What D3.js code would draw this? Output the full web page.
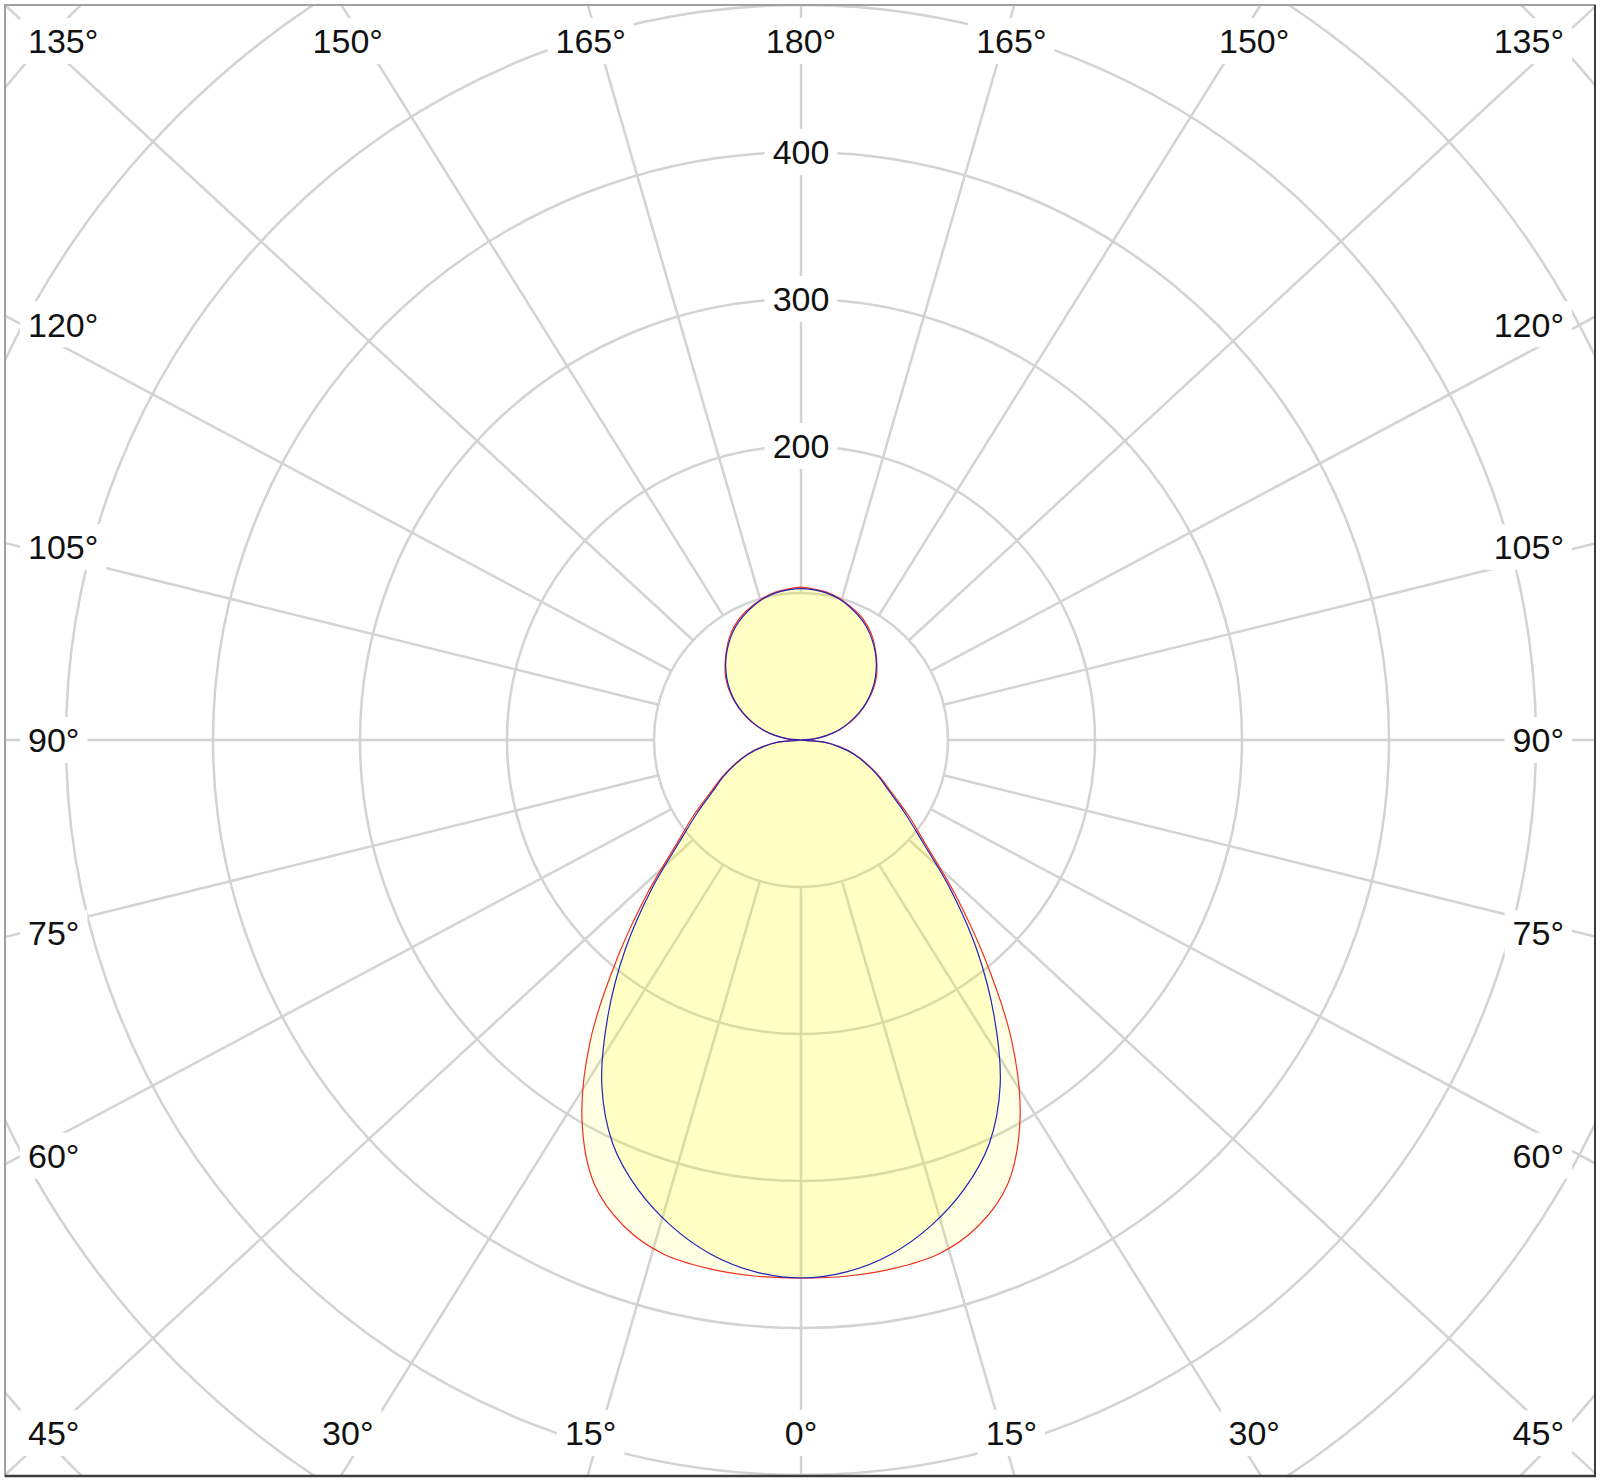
<!DOCTYPE html>
<html>
<head>
<meta charset="utf-8">
<script src="https://cdn.jsdelivr.net/npm/d3@7"></script>
<style>
  html, body { margin: 0; padding: 0; background: #ffffff; }
  svg { display: block; }
</style>
</head>
<body>
<svg id="chart" width="1600" height="1481"></svg>
<script>
// ---------------- data ----------------
const gammaDeg = [0,5,10,15,20,25,30,35,40,45,50,55,60,65,70,75,80,85,90,
                  95,100,105,110,115,120,125,130,135,140,145,150,155,160,165,170,175,180];
// C0 - C180 plane (red)
const planeC0C180 = [366,366,365,362,352,333,298,250,195,148,111,89,71,59,48,38,27,15,0,
                     9,18,27,36,44,52,60,67,73,79,85,90,94,97,100,102,103,104];
// C90 - C270 plane (blue)
const planeC90C270 = [366,363,355,342,325,303,271,229,186,144,108,86,69,58,47,37,26,15,0,
                      9,18,27,35,43.5,51.5,59,66,72.5,78.5,84,89,93,96.5,99.5,101.5,102.5,103];
const ringValues = [100,200,300,400,500,600,700];
const ringLabelValues = [200,300,400];
const spokeAngles = [0,15,30,45,60,75,90,105,120,135,150,165,180];

// ---------------- layout ----------------
const frame = {x0: 5, y0: 5, x1: 1595, y1: 1476};
const cx = 801, cy = 740;
const W = cx - frame.x0, H = cy - frame.y0;
const labelW = 785, labelH = 720;
const r = d3.scaleLinear().domain([0, 100]).range([0, 147]);
const gridColor = "#d3d3d3";
const fontFamily = "'Liberation Sans', Arial, sans-serif";
const fontSize = 34;

const svg = d3.select("#chart");
svg.append("rect").attr("width", 1600).attr("height", 1481).attr("fill", "#fff");

svg.append("clipPath").attr("id", "clip")
  .append("rect").attr("x", frame.x0).attr("y", frame.y0)
  .attr("width", frame.x1 - frame.x0).attr("height", frame.y1 - frame.y0);

const g = svg.append("g").attr("clip-path", "url(#clip)");

// rings
g.selectAll("circle.ring").data(ringValues).join("circle")
  .attr("class", "ring")
  .attr("cx", cx).attr("cy", cy).attr("r", d => r(d))
  .attr("fill", "none").attr("stroke", gridColor).attr("stroke-width", 2.5);

// spokes (directions stretched to the frame, both sides)
const spokes = [];
spokeAngles.forEach(a => {
  [1, -1].forEach(s => {
    if ((a === 0 || a === 180) && s === -1) return;
    spokes.push({a, s});
  });
});
function dirOf(a, s, w, h) {
  const rad = a * Math.PI / 180;
  const u = s * Math.sin(rad) * w, v = Math.cos(rad) * h;
  return [Math.abs(u) < 1e-9 ? 0 : u, Math.abs(v) < 1e-9 ? 0 : v];
}
g.selectAll("line.spoke").data(spokes).join("line")
  .attr("class", "spoke")
  .attr("x1", d => { const [u, v] = dirOf(d.a, d.s, W, H); const n = Math.hypot(u, v); return cx + u / n * r(100); })
  .attr("y1", d => { const [u, v] = dirOf(d.a, d.s, W, H); const n = Math.hypot(u, v); return cy + v / n * r(100); })
  .attr("x2", d => { const [u, v] = dirOf(d.a, d.s, W, H); return cx + u * 2; })
  .attr("y2", d => { const [u, v] = dirOf(d.a, d.s, W, H); return cy + v * 2; })
  .attr("stroke", gridColor).attr("stroke-width", 2.5);

// photometric curves
function curvePoints(values) {
  const pts = [];
  gammaDeg.forEach((gd, i) => pts.push([Math.PI - gd * Math.PI / 180, r(values[i])]));
  for (let i = gammaDeg.length - 2; i >= 1; i--) pts.push([Math.PI + gammaDeg[i] * Math.PI / 180, r(values[i])]);
  return pts;
}
const smoothLine = d3.lineRadial().angle(d => d[0]).radius(d => d[1]).curve(d3.curveCatmullRomClosed.alpha(0.5));

const curves = svg.append("g").attr("transform", `translate(${cx},${cy})`);
curves.append("path").attr("d", smoothLine(curvePoints(planeC0C180)))
  .attr("fill", "rgba(255,255,0,0.11)").attr("stroke", "none");
curves.append("path").attr("d", smoothLine(curvePoints(planeC90C270)))
  .attr("fill", "rgba(255,255,0,0.14)").attr("stroke", "none");
curves.append("path").attr("d", smoothLine(curvePoints(planeC0C180)))
  .attr("fill", "none").attr("stroke", "#f03020").attr("stroke-width", 1.2);
curves.append("path").attr("d", smoothLine(curvePoints(planeC90C270)))
  .attr("fill", "none").attr("stroke", "#2222bb").attr("stroke-width", 1.2);

// label helper with white background
function labelWithBox(parent, x, y, text, anchor) {
  const grp = parent.append("g");
  const t = grp.append("text").attr("x", x).attr("y", y).attr("dy", "0.36em")
    .attr("text-anchor", anchor).attr("font-family", fontFamily)
    .attr("font-size", fontSize).attr("fill", "#111").text(text);
  const bb = t.node().getBBox();
  grp.insert("rect", "text").attr("x", bb.x - 8).attr("y", y - 23)
    .attr("width", bb.width + 16).attr("height", 46).attr("fill", "#fff");
}

// ring labels
const labels = svg.append("g");
ringLabelValues.forEach(v => labelWithBox(labels, cx, cy - r(v), String(v), "middle"));

// angle labels at frame
spokes.forEach(d => {
  const [u, v] = dirOf(d.a, d.s, labelW, labelH);
  const t = 1 / Math.max(Math.abs(u) / labelW, Math.abs(v) / labelH);
  let x = cx + u * t, y = cy + v * t;
  y = Math.max(41, Math.min(1433, y));
  let anchor = "middle";
  if (x <= cx - labelW + 0.5) { x = 28; anchor = "start"; }
  else if (x >= cx + labelW - 0.5) { x = 1564; anchor = "end"; }
  labelWithBox(labels, x, y, d.a + "°", anchor);
});

// frame
svg.append("rect").attr("x", frame.x0).attr("y", frame.y0)
  .attr("width", frame.x1 - frame.x0).attr("height", frame.y1 - frame.y0)
  .attr("fill", "none").attr("stroke", "#a0a0a0").attr("stroke-width", 2);
svg.append("line").attr("x1", frame.x0).attr("x2", frame.x1 + 1).attr("y1", frame.y1).attr("y2", frame.y1)
  .attr("stroke", "#3c3c3c").attr("stroke-width", 2.5);
svg.append("line").attr("x1", frame.x1).attr("x2", frame.x1).attr("y1", frame.y0).attr("y2", frame.y1)
  .attr("stroke", "#3c3c3c").attr("stroke-width", 2);
</script>
</body>
</html>
